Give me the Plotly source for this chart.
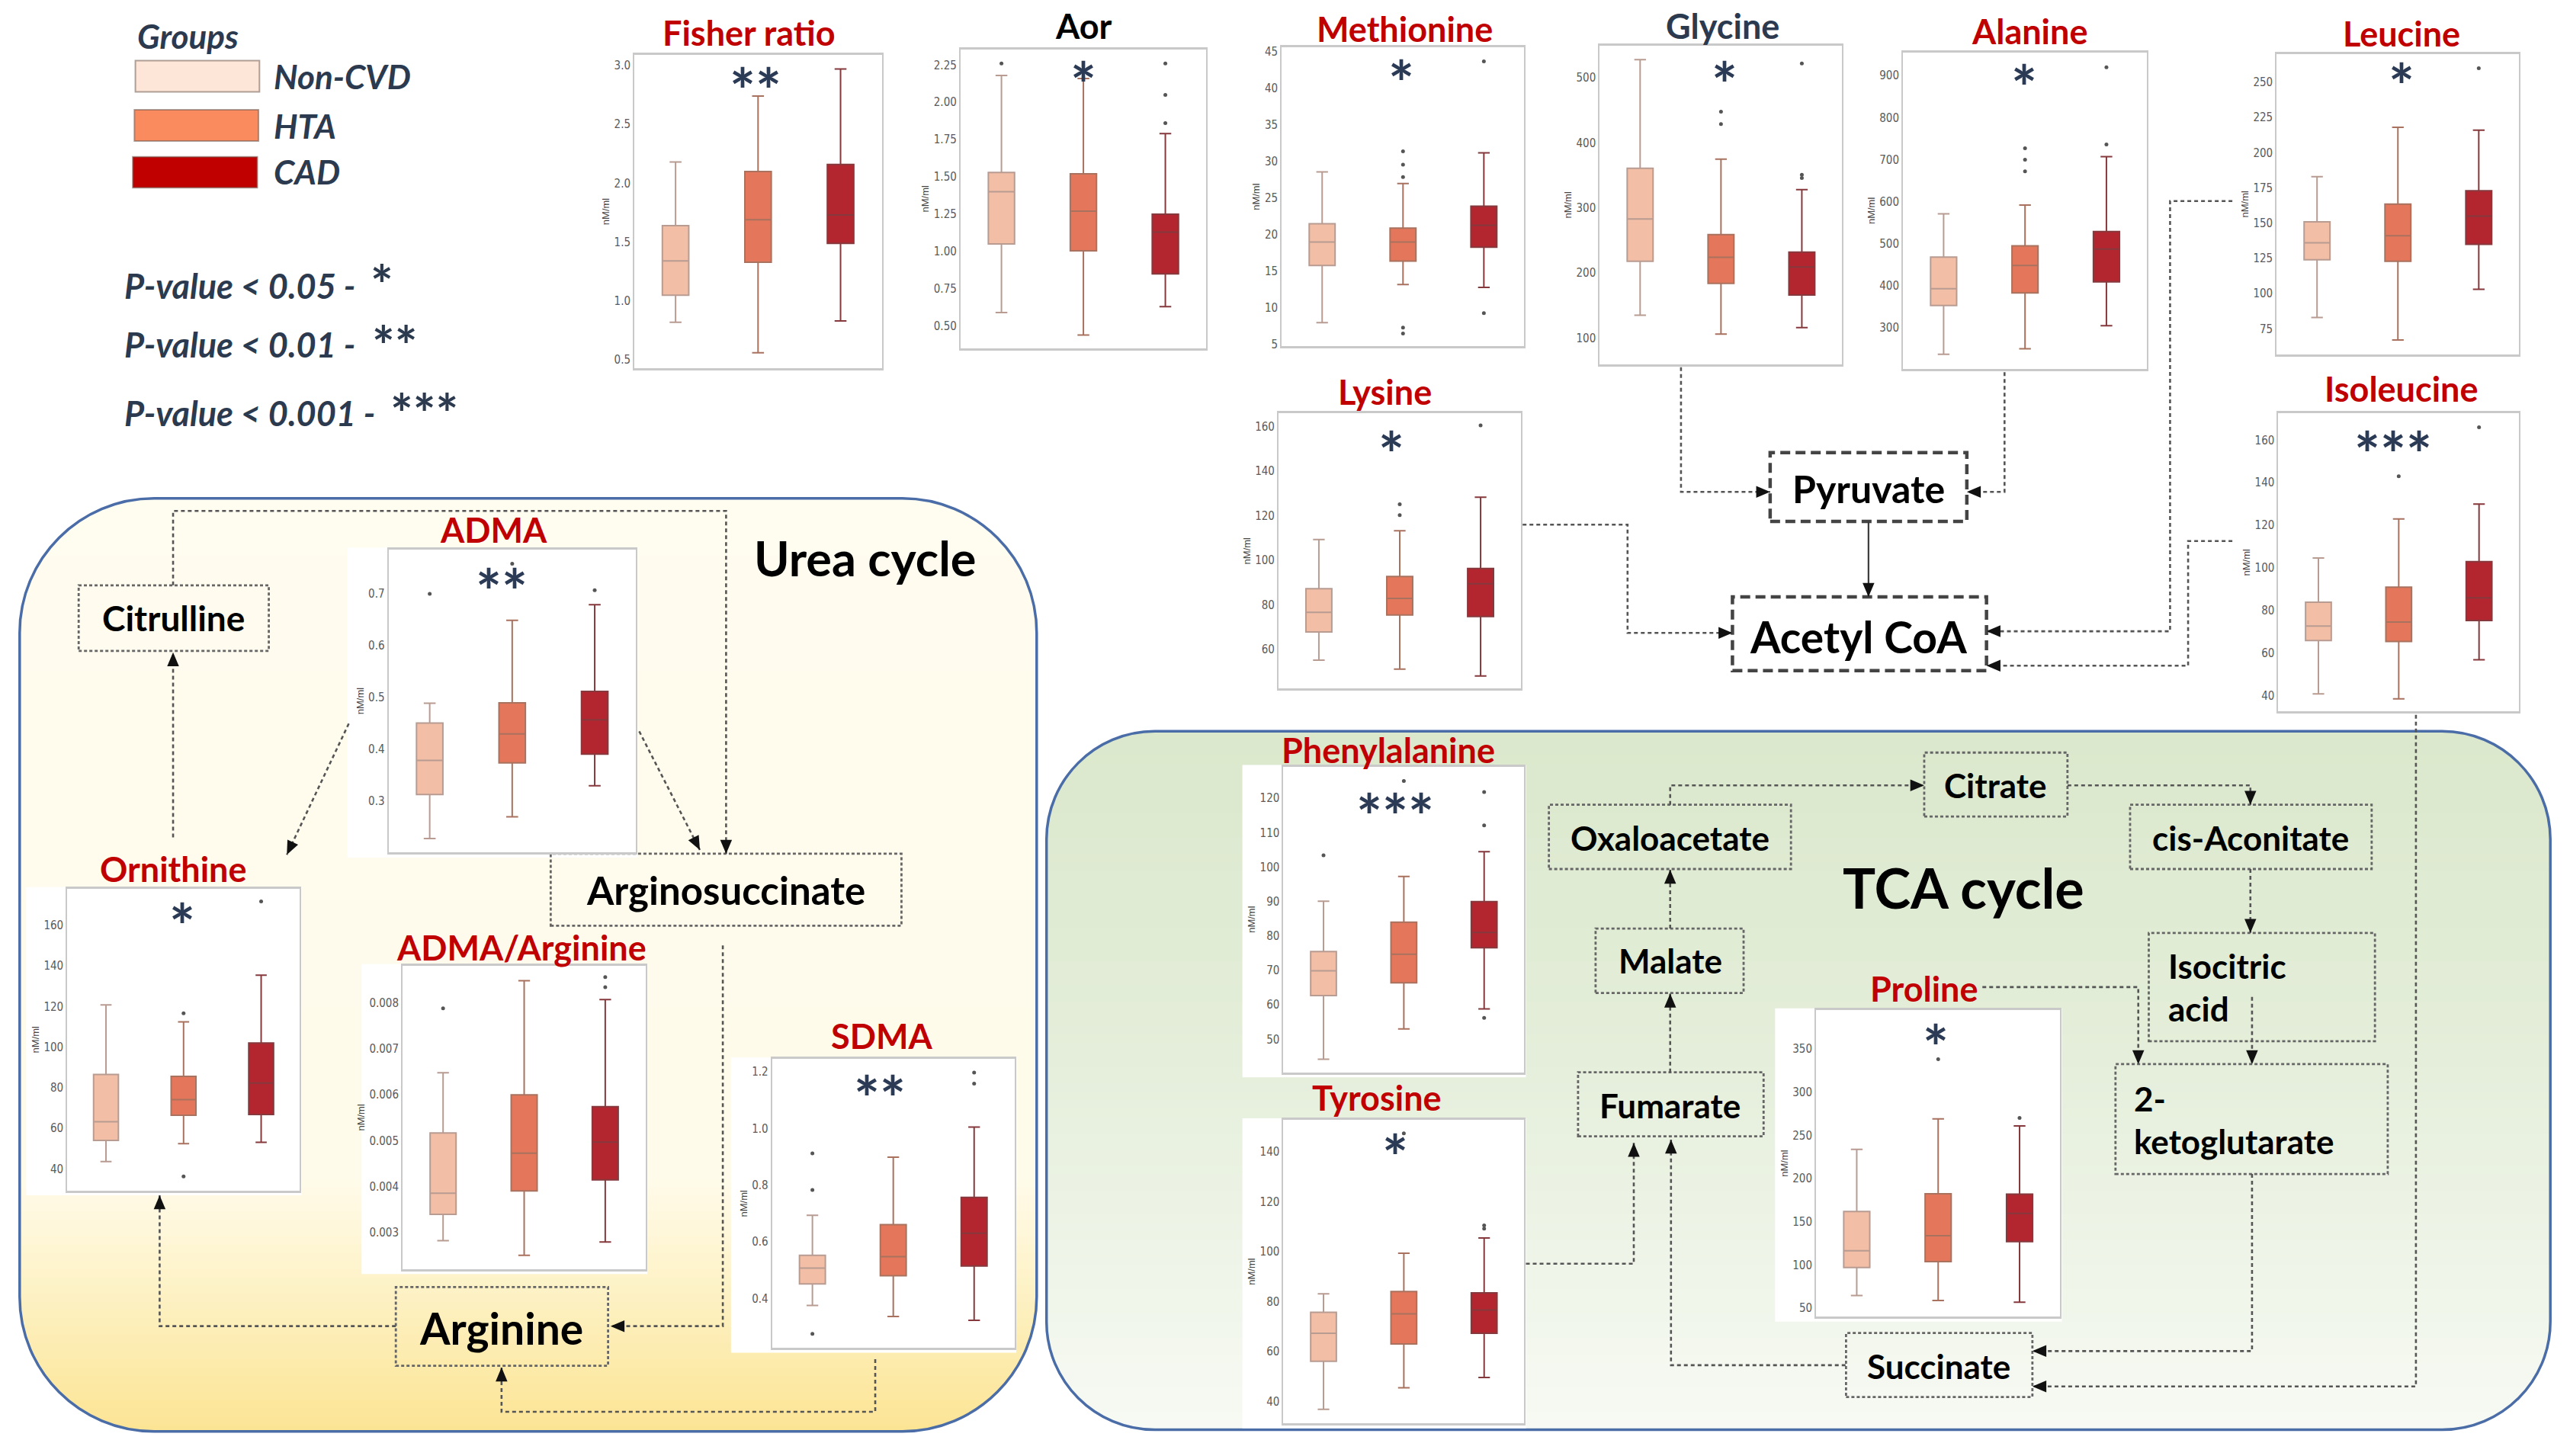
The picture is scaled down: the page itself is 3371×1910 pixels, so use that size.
import math
import plotly.graph_objects as go

# ---------------------------------------------------------------- data
GROUPS = ["Non-CVD", "HTA", "CAD"]

# five-number summaries per group: [lower whisker, Q1, median, Q3, upper whisker]
fisher_ratio = [[0.82, 1.05, 1.34, 1.64, 2.18], [0.56, 1.33, 1.69, 2.10, 2.74], [0.83, 1.49, 1.73, 2.16, 2.97]]
fisher_ratio_out = [[], [], []]
aor = [[0.59, 1.05, 1.40, 1.53, 2.18], [0.44, 1.005, 1.27, 1.52, 2.16], [0.63, 0.85, 1.13, 1.25, 1.79]]
aor_out = [[2.26], [], [2.26, 2.05, 1.86]]
methionine = [[8.0, 15.8, 19.0, 21.5, 28.6], [13.2, 16.4, 19.0, 20.9, 27.0], [12.8, 18.3, 21.3, 23.9, 31.2]]
methionine_out = [[], [31.4, 29.6, 27.9, 7.3, 6.5], [43.7, 9.3]]
glycine = [[135, 218, 283, 361, 528], [106, 184, 224, 259, 375], [116, 166, 209, 232, 328]]
glycine_out = [[], [448, 429], [522, 351, 346]]
alanine = [[237, 353, 393, 468, 571], [250, 383, 448, 495, 592], [305, 409, 487, 529, 707]]
alanine_out = [[], [727, 700, 672], [920, 736]]
leucine = [[83, 124, 136, 151, 183], [67, 123, 141, 163.5, 218], [103, 135, 155, 173, 216]]
leucine_out = [[], [], [260]]
isoleucine = [[41, 66, 72.8, 84, 104.7], [38.7, 65.6, 74.7, 91, 123], [57, 75.4, 86, 103, 130]]
isoleucine_out = [[], [143], [166]]
lysine = [[55.3, 67.9, 76.7, 87.3, 109.4], [51.3, 75.5, 83, 92.8, 113.3], [48.2, 74.8, 89.5, 96.4, 128.3]]
lysine_out = [[], [125.2, 120.3], [160.5]]
adma = [[0.228, 0.313, 0.379, 0.451, 0.489], [0.27, 0.374, 0.43, 0.49, 0.649], [0.33, 0.391, 0.457, 0.512, 0.679]]
adma_out = [[0.70], [0.758], [0.707]]
ornithine = [[43.6, 54, 63.2, 86.5, 120.8], [52.4, 66.4, 74.1, 85.6, 112.4], [53.1, 66.8, 82.3, 102, 135.4]]
ornithine_out = [[], [116.6, 36.3], [171.7]]
adma_arginine = [[0.00283, 0.0034, 0.00386, 0.00517, 0.00648], [0.00251, 0.00391, 0.00473, 0.0060, 0.00848],
                 [0.0028, 0.00415, 0.00497, 0.00574, 0.00807]]
adma_arginine_out = [[0.00788], [], [0.00856, 0.00834]]
sdma = [[0.376, 0.452, 0.508, 0.553, 0.694], [0.337, 0.481, 0.548, 0.661, 0.899], [0.324, 0.515, 0.631, 0.757, 1.005]]
sdma_out = [[0.912, 0.783, 0.276], [], [1.197, 1.158]]
phenylalanine = [[44.2, 62.7, 69.9, 75.5, 90.1], [53, 66.4, 74.7, 84.0, 97.3], [58.8, 76.6, 81, 90, 104.5]]
phenylalanine_out = [[103.4], [125], [121.8, 112.1, 56.2]]
tyrosine = [[37, 56.2, 67.4, 75.8, 83.2], [45.6, 63.1, 75.2, 84.1, 99.4], [49.7, 67.4, 76.7, 83.6, 105.5]]
tyrosine_out = [[], [147.4], [110.6, 109.3]]
proline = [[64.6, 97, 116.5, 162, 233.8], [59, 104, 133.8, 182.4, 269], [57, 127, 159.7, 182, 260.8]]
proline_out = [[], [338], [270]]

# tick values / labels
fisher_ratio_ticks = [0.5, 1.0, 1.5, 2.0, 2.5, 3.0]
fisher_ratio_ticktext = ["0.5", "1.0", "1.5", "2.0", "2.5", "3.0"]
aor_ticks = [0.5, 0.75, 1.0, 1.25, 1.5, 1.75, 2.0, 2.25]
aor_ticktext = ["0.50", "0.75", "1.00", "1.25", "1.50", "1.75", "2.00", "2.25"]
methionine_ticks = [5, 10, 15, 20, 25, 30, 35, 40, 45]
methionine_ticktext = ["5", "10", "15", "20", "25", "30", "35", "40", "45"]
glycine_ticks = [100, 200, 300, 400, 500]
glycine_ticktext = ["100", "200", "300", "400", "500"]
alanine_ticks = [300, 400, 500, 600, 700, 800, 900]
alanine_ticktext = ["300", "400", "500", "600", "700", "800", "900"]
leucine_ticks = [75, 100, 125, 150, 175, 200, 225, 250]
leucine_ticktext = ["75", "100", "125", "150", "175", "200", "225", "250"]
isoleucine_ticks = [40, 60, 80, 100, 120, 140, 160]
isoleucine_ticktext = ["40", "60", "80", "100", "120", "140", "160"]
lysine_ticks = [60, 80, 100, 120, 140, 160]
lysine_ticktext = ["60", "80", "100", "120", "140", "160"]
adma_ticks = [0.3, 0.4, 0.5, 0.6, 0.7]
adma_ticktext = ["0.3", "0.4", "0.5", "0.6", "0.7"]
ornithine_ticks = [40, 60, 80, 100, 120, 140, 160]
ornithine_ticktext = ["40", "60", "80", "100", "120", "140", "160"]
adma_arginine_ticks = [0.003, 0.004, 0.005, 0.006, 0.007, 0.008]
adma_arginine_ticktext = ["0.003", "0.004", "0.005", "0.006", "0.007", "0.008"]
sdma_ticks = [0.4, 0.6, 0.8, 1.0, 1.2]
sdma_ticktext = ["0.4", "0.6", "0.8", "1.0", "1.2"]
phenylalanine_ticks = [50, 60, 70, 80, 90, 100, 110, 120]
phenylalanine_ticktext = ["50", "60", "70", "80", "90", "100", "110", "120"]
tyrosine_ticks = [40, 60, 80, 100, 120, 140]
tyrosine_ticktext = ["40", "60", "80", "100", "120", "140"]
proline_ticks = [50, 100, 150, 200, 250, 300, 350]
proline_ticktext = ["50", "100", "150", "200", "250", "300", "350"]

# ---------------------------------------------------------------- styling / layout
FIG_W, FIG_H = 3371, 1910
DW, DH = 1568.0, 888.0          # design grid
S = FIG_W / DW

RED = "#c00000"
NAVY = "#2b3a55"
SLATE = "#2c3a4f"
BOX_FILL = ["#f2bea6", "#e4775b", "#b3262f"]
BOX_LINE = ["#b89c92", "#a8725f", "#86393c"]
SWATCH = ["#fde6d8", "#f98b5e", "#c00000"]
FRAME = "#c9c9c9"
FONT = "Lato, 'Open Sans', sans-serif"
TICKFONT = "'Liberation Sans Narrow', 'DejaVu Sans Condensed', 'Liberation Sans', sans-serif"


def X(x):
    return x / DW


def Y(y):
    return 1.0 - y / DH


def P(x, y):
    return f"{X(x):.6f},{Y(y):.6f}"


PANELS = [
    ("Fisher ratio", fisher_ratio, fisher_ratio_out, fisher_ratio_ticks, fisher_ratio_ticktext, (0.43, 3.09),
     (387, 538, 33.5, 224.5), RED, (457, 20), "**", (461, 47.5)),
    ("Aor", aor, aor_out, aor_ticks, aor_ticktext, (0.35, 2.356),
     (586, 736, 30, 212.5), "#000000", (661, 16), "*", (661, 43.5)),
    ("Methionine", methionine, methionine_out, methionine_ticks, methionine_ticktext, (4.8, 45.6),
     (782, 930, 29, 211), RED, (857, 17.5), "*", (855, 43)),
    ("Glycine", glycine, glycine_out, glycine_ticks, glycine_ticktext, (60, 549),
     (976, 1124, 28, 222), SLATE, (1051, 16), "*", (1052, 43.5)),
    ("Alanine", alanine, alanine_out, alanine_ticks, alanine_ticktext, (202, 955),
     (1161, 1310, 32, 225), RED, (1238, 19), "*", (1235, 45.5)),
    ("Leucine", leucine, leucine_out, leucine_ticks, leucine_ticktext, (57, 270),
     (1389, 1537, 33, 216), RED, (1465, 20.5), "*", (1465, 44.5)),
    ("Isoleucine", isoleucine, isoleucine_out, isoleucine_ticks, isoleucine_ticktext, (32.7, 172.6),
     (1390, 1537, 252, 434), RED, (1465, 237), "***", (1460, 269)),
    ("Lysine", lysine, lysine_out, lysine_ticks, lysine_ticktext, (42.5, 166),
     (780, 928, 252, 420), RED, (845, 239), "*", (849, 269)),
    ("ADMA", adma, adma_out, adma_ticks, adma_ticktext, (0.201, 0.786),
     (237, 388, 335, 520), RED, (301, 323), "**", (306, 353)),
    ("Ornithine", ornithine, ornithine_out, ornithine_ticks, ornithine_ticktext, (29.4, 178),
     (41, 183, 542, 726), RED, (106, 530), "*", (111, 557)),
    ("ADMA/Arginine", adma_arginine, adma_arginine_out, adma_arginine_ticks, adma_arginine_ticktext,
     (0.00221, 0.008806), (245.6, 394, 589, 774), RED, (318, 578), "", None),
    ("SDMA", sdma, sdma_out, sdma_ticks, sdma_ticktext, (0.227, 1.244),
     (471, 619, 646, 822), RED, (538, 632), "**", (537, 662)),
    ("Phenylalanine", phenylalanine, phenylalanine_out, phenylalanine_ticks, phenylalanine_ticktext, (40.4, 129.2),
     (783, 930, 467.5, 654), RED, (847, 457.5), "***", (851, 490)),
    ("Tyrosine", tyrosine, tyrosine_out, tyrosine_ticks, tyrosine_ticktext, (31.4, 152.8),
     (783, 930, 683, 868), RED, (840, 669.5), "*", (851, 698)),
    ("Proline", proline, proline_out, proline_ticks, proline_ticktext, (40.3, 394.9),
     (1108, 1257, 616, 803), RED, (1174, 603), "*", (1181, 631)),
]

fig = go.Figure()
shapes = []
annotations = []
axes = {}


def text(x, y, s, size, color="#000000", xanchor="center", family=FONT):
    annotations.append(dict(x=X(x), y=Y(y), xref="paper", yref="paper", text=s, showarrow=False,
                            xanchor=xanchor, yanchor="middle",
                            font=dict(family=family, size=size, color=color)))


def star(x, y, s, size, color=NAVY):
    # asterisk glyph sits high in the em box -> shift anchor down a bit
    text(x, y + 0.2 * size / S, "<b>" + s + "</b>", size, color)


# ---------------------------------------------------------------- cycle regions (gradient fill)
def region_x(y, x0, x1, y0, y1, r):
    if y < y0 + r:
        d = y0 + r - y
    elif y > y1 - r:
        d = y - (y1 - r)
    else:
        d = 0.0
    d = min(d, r)
    off = r - math.sqrt(max(r * r - d * d, 0.0))
    return x0 + off, x1 - off


def lerp_color(stops, y):
    if y <= stops[0][0]:
        c = stops[0][1]
    elif y >= stops[-1][0]:
        c = stops[-1][1]
    else:
        for (ya, ca), (yb, cb) in zip(stops[:-1], stops[1:]):
            if ya <= y <= yb:
                t = (y - ya) / (yb - ya)
                c = tuple(ca[k] + (cb[k] - ca[k]) * t for k in range(3))
                break
    return "rgb(%d,%d,%d)" % tuple(int(round(v)) for v in c)


def region(x0, x1, y0, y1, r, stops, border):
    step = 5.0
    ya = y0
    while ya < y1 - 1e-6:
        yb = min(ya + step, y1)
        ybe = min(yb + 0.8, y1)
        n = 6
        ys = [ya + (ybe - ya) * k / n for k in range(n + 1)]
        left = [(region_x(y, x0, x1, y0, y1, r)[0], y) for y in ys]
        right = [(region_x(y, x0, x1, y0, y1, r)[1], y) for y in reversed(ys)]
        path = "M " + " L ".join(P(a, b) for a, b in left + right) + " Z"
        shapes.append(dict(type="path", path=path, xref="paper", yref="paper",
                           fillcolor=lerp_color(stops, (ya + yb) / 2), line=dict(width=0), layer="below"))
        ya = yb
    k = 0.5523 * r
    path = (f"M {P(x0 + r, y0)} L {P(x1 - r, y0)} C {P(x1 - r + k, y0)} {P(x1, y0 + r - k)} {P(x1, y0 + r)} "
            f"L {P(x1, y1 - r)} C {P(x1, y1 - r + k)} {P(x1 - r + k, y1)} {P(x1 - r, y1)} "
            f"L {P(x0 + r, y1)} C {P(x0 + r - k, y1)} {P(x0, y1 - r + k)} {P(x0, y1 - r)} "
            f"L {P(x0, y0 + r)} C {P(x0, y0 + r - k)} {P(x0 + r - k, y0)} {P(x0 + r, y0)} Z")
    shapes.append(dict(type="path", path=path, xref="paper", yref="paper", fillcolor="rgba(0,0,0,0)",
                       line=dict(color=border, width=3.5), layer="below"))


region(12, 632.5, 304, 873, 82,
       [(304, (255, 252, 240)), (720, (255, 251, 234)), (800, (253, 240, 190)), (873, (252, 228, 148))], "#4a6da8")
region(638.5, 1556, 446, 872, 66,
       [(446, (219, 232, 204)), (620, (227, 237, 216)), (760, (238, 244, 231)), (872, (247, 250, 244))], "#4a6da8")

# ---------------------------------------------------------------- panels
for i, (name, stats, outs, tv, tt, rng, frame, tcol, tpos, stars, spos) in enumerate(PANELS, start=1):
    fx0, fx1, fy0, fy1 = frame
    xa = "x" if i == 1 else f"x{i}"
    ya = "y" if i == 1 else f"y{i}"
    # white card behind panel incl. tick labels
    shapes.append(dict(type="rect", xref="paper", yref="paper", x0=X(fx0 - 25), x1=X(fx1 + 1),
                       y0=Y(fy1 + 3), y1=Y(fy0 - 1), fillcolor="white", line=dict(width=0), layer="below"))
    for g in range(3):
        low, q1, med, q3, high = stats[g]
        fig.add_trace(go.Box(x=[g], q1=[q1], median=[med], q3=[q3], lowerfence=[low], upperfence=[high],
                             xaxis=xa, yaxis=ya, fillcolor=BOX_FILL[g], line=dict(color=BOX_LINE[g], width=2),
                             width=0.32, whiskerwidth=0.45, boxpoints=False, showlegend=False,
                             name=GROUPS[g], hoverinfo="skip"))
        if outs[g]:
            fig.add_trace(go.Scatter(x=[g] * len(outs[g]), y=outs[g], mode="markers",
                                     marker=dict(size=5, color="#555555"), xaxis=xa, yaxis=ya,
                                     showlegend=False, hoverinfo="skip"))
    axes["xaxis" if i == 1 else f"xaxis{i}"] = dict(
        domain=[X(fx0), X(fx1)], anchor=ya, range=[-0.5, 2.5], showticklabels=False, ticks="",
        showgrid=False, zeroline=False, showline=True, mirror=True, linecolor=FRAME, linewidth=3,
        automargin=False, fixedrange=True)
    axes["yaxis" if i == 1 else f"yaxis{i}"] = dict(
        domain=[Y(fy1), Y(fy0)], anchor=xa, range=list(rng), tickmode="array", tickvals=tv, ticktext=tt,
        tickfont=dict(family=TICKFONT, size=15, color="#5a5a5a"), ticks="", showgrid=False,
        zeroline=False, showline=True, mirror=True, linecolor=FRAME, linewidth=2, automargin=False,
        title=dict(text="nM/ml", font=dict(family="Liberation Sans, sans-serif", size=13, color="#444444"),
                   standoff=3), fixedrange=True)
    text(tpos[0], tpos[1], "<b>" + name + "</b>", 45, tcol)
    if stars:
        star(spos[0], spos[1], stars, 80)

# ---------------------------------------------------------------- pathway boxes
def dbox(x0, x1, y0, y1, heavy=False):
    if heavy:
        line = dict(color="#444444", width=4.5, dash="13px,7px")
    else:
        line = dict(color="#666666", width=2.8, dash="4px,3px")
    shapes.append(dict(type="rect", xref="paper", yref="paper", x0=X(x0), x1=X(x1), y0=Y(y1), y1=Y(y0),
                       line=line, fillcolor="rgba(0,0,0,0)", layer="below"))


dbox(1080, 1200, 276, 318, heavy=True)
text(1140, 298, "<b>Pyruvate</b>", 50)
dbox(1057, 1212, 364, 409, heavy=True)
text(1134, 388, "<b>Acetyl CoA</b>", 57)

dbox(48, 164, 357, 397)
text(106, 377, "<b>Citrulline</b>", 46)
dbox(336, 550, 520.7, 564.6)
text(443, 543, "<b>Arginosuccinate</b>", 51)
dbox(241.5, 371, 785, 833)
text(306, 810, "<b>Arginine</b>", 57)

dbox(945, 1092.7, 490.8, 530)
text(1019, 511, "<b>Oxaloacetate</b>", 44)
dbox(973.5, 1063.8, 566.3, 605.6)
text(1019, 586, "<b>Malate</b>", 44)
dbox(962.8, 1076, 654, 693)
text(1019, 674, "<b>Fumarate</b>", 44)
dbox(1174, 1261.4, 459, 498)
text(1217.7, 479, "<b>Citrate</b>", 44)
dbox(1299.6, 1447, 490.8, 530)
text(1373, 511, "<b>cis-Aconitate</b>", 44)
dbox(1311, 1449, 569, 635)
text(1322, 589, "<b>Isocitric</b>", 44, xanchor="left")
text(1322, 615, "<b>acid</b>", 44, xanchor="left")
dbox(1290.7, 1456.8, 649, 716)
text(1301, 670, "<b>2-</b>", 44, xanchor="left")
text(1301, 696, "<b>ketoglutarate</b>", 44, xanchor="left")
dbox(1126.3, 1240, 813, 852)
text(1183, 833, "<b>Succinate</b>", 44)

text(528, 340, "<b>Urea cycle</b>", 63)
text(1198, 541, "<b>TCA cycle</b>", 72)

# ---------------------------------------------------------------- connectors
def connector(pts, solid=False):
    path = "M " + " L ".join(P(*q) for q in pts)
    shapes.append(dict(type="path", path=path, xref="paper", yref="paper", fillcolor="rgba(0,0,0,0)",
                       line=dict(color="#3a3a3a" if solid else "#555555", width=2.2 if solid else 2.6,
                                 dash="solid" if solid else "5px,4px"), layer="below"))
    (ax, ay), (tx, ty) = pts[-2], pts[-1]
    dx, dy = tx - ax, ty - ay
    n = math.hypot(dx, dy)
    ux, uy = dx / n, dy / n
    L, hw = 8.5, 3.6
    bx, by = tx - ux * L, ty - uy * L
    px, py = -uy, ux
    tri = [(tx, ty), (bx + px * hw, by + py * hw), (bx - px * hw, by - py * hw)]
    shapes.append(dict(type="path", path="M " + " L ".join(P(*q) for q in tri) + " Z",
                       xref="paper", yref="paper", fillcolor="#111111", line=dict(width=0), layer="below"))


connector([(1025.6, 224), (1025.6, 300), (1080, 300)])
connector([(1223, 227), (1223, 300), (1200, 300)])
connector([(1140, 318), (1140, 364)], solid=True)
connector([(929, 320), (993, 320), (993, 386), (1057, 386)])
connector([(1362, 122.6), (1324, 122.6), (1324, 385), (1212, 385)])
connector([(1362, 330), (1335, 330), (1335, 406), (1212, 406)])
connector([(1474, 436), (1474, 845.6), (1240, 845.6)])

connector([(105.6, 357), (105.6, 311.6), (443, 311.6), (443, 520.7)])
connector([(105.6, 510.7), (105.6, 397.8)])
connector([(212.8, 441.3), (175, 521.3)])
connector([(390, 446), (427, 518.4)])
connector([(441, 576.6), (441, 808.8), (372.5, 808.8)])
connector([(241.5, 808.8), (97.4, 808.8), (97.4, 729)])
connector([(534, 829), (534, 861), (306, 861), (306, 834)])

connector([(1019, 566.3), (1019, 530.5)])
connector([(1019, 654), (1019, 606)])
connector([(1019, 490.8), (1019, 479), (1174, 479)])
connector([(1261.4, 479), (1373, 479), (1373, 490.8)])
connector([(1373, 530), (1373, 569)])
connector([(1374, 608), (1374, 649)])
connector([(1209.5, 602), (1304.6, 602), (1304.6, 649)])
connector([(1374, 716), (1374, 824), (1240, 824)])
connector([(1126, 832.6), (1019.5, 832.6), (1019.5, 695)])
connector([(931, 770.7), (996.8, 770.7), (996.8, 697)])

# ---------------------------------------------------------------- legend
text(82.6, 22, "<b><i>Groups</i></b>", 44, SLATE, xanchor="left")
swatch_pos = [(82.6, 158.3, 37, 56), (82, 157.7, 67, 86), (81, 157, 95.6, 114.5)]
label_y = [46.6, 76.5, 104.7]
for g in range(3):
    x0, x1, y0, y1 = swatch_pos[g]
    shapes.append(dict(type="rect", xref="paper", yref="paper", x0=X(x0), x1=X(x1), y0=Y(y1), y1=Y(y0),
                       fillcolor=SWATCH[g], line=dict(color="rgba(110,90,80,0.55)", width=2), layer="below"))
    text(166, label_y[g], "<b><i>" + GROUPS[g] + "</i></b>", 44, SLATE, xanchor="left")

pv_text = ["P-value &lt; 0.05 -", "P-value &lt; 0.01 -", "P-value &lt; 0.001 -"]
pv_stars = ["*", "**", "***"]
pv_y = [174.4, 210, 251.9]
pv_star_pos = [(233, 167), (241, 204), (259, 245.6)]
for k in range(3):
    text(75, pv_y[k], "<b><i>" + pv_text[k] + "</i></b>", 45, SLATE, xanchor="left")
    star(pv_star_pos[k][0], pv_star_pos[k][1], pv_stars[k], 70, SLATE)

fig.update_layout(
    width=FIG_W, height=FIG_H, margin=dict(l=0, r=0, t=0, b=0),
    paper_bgcolor="white", plot_bgcolor="rgba(0,0,0,0)", showlegend=False,
    shapes=shapes, annotations=annotations, font=dict(family=FONT), **axes)

fig.write_html("out.html", config={"displayModeBar": False},
               post_script="document.body.style.margin='0';document.body.style.overflow='hidden';")
